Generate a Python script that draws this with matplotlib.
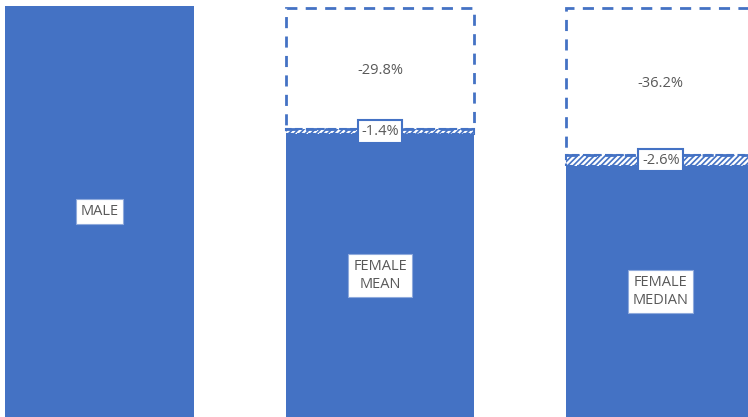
import numpy as np
import matplotlib.pyplot as plt

plt.rcParams['font.family'] = ['Open Sans', 'DejaVu Sans']

# Données
categories = ["MALE", "FEMALE\nMEAN", "FEMALE\nMEDIAN"]
base = np.array([100.0, 68.8, 61.2])      # partie pleine
adjusted = np.array([0.0, 1.4, 2.6])      # écart ajusté (hachuré)
unadjusted = np.array([0.0, 29.8, 36.2])  # écart non ajusté (pointillé)
gap_labels = ["", "-1.4%", "-2.6%"]
raw_labels = ["", "-29.8%", "-36.2%"]

blue = "#4472C4"
grey = "#595959"
plt.rcParams['hatch.color'] = blue
plt.rcParams['hatch.linewidth'] = 1.2

fig = plt.figure(figsize=(7.48, 4.17), dpi=100)
ax = fig.add_axes([0, 0, 1, 1])
x = np.arange(len(categories))
w = 0.673

ax.bar(x, base, w, color=blue, edgecolor="none")
m = adjusted > 0
ax.bar(x[m], adjusted[m], w, bottom=base[m], color="white", hatch="//////",
       edgecolor=blue, linewidth=1.5, linestyle="--")
ax.bar(x[m], unadjusted[m] - 0.5, w, bottom=(base + adjusted)[m], fill=False,
       edgecolor=blue, linewidth=2, linestyle=(0, (4, 3)))

for i in range(len(x)):
    ax.text(x[i], base[i] / 2, categories[i], ha="center", va="center",
            fontsize=10.5, color=grey, linespacing=1.3,
            bbox=dict(boxstyle="square,pad=0.32", fc="white", ec="#8FAADC", lw=0.8))
    if adjusted[i] > 0:
        ax.text(x[i], base[i] + adjusted[i] / 2, gap_labels[i], ha="center", va="center",
                fontsize=10.5, color=grey,
                bbox=dict(boxstyle="square,pad=0.25", fc="white", ec=blue, lw=1.5))
        ax.text(x[i], base[i] + adjusted[i] + unadjusted[i] / 2 - 0.8, raw_labels[i],
                ha="center", va="center", fontsize=10.5, color=grey)

ax.set_xlim(-0.354, 2.311)
ax.set_ylim(0, 101.5)
ax.axis("off")
fig.savefig("out.png", dpi=100)
